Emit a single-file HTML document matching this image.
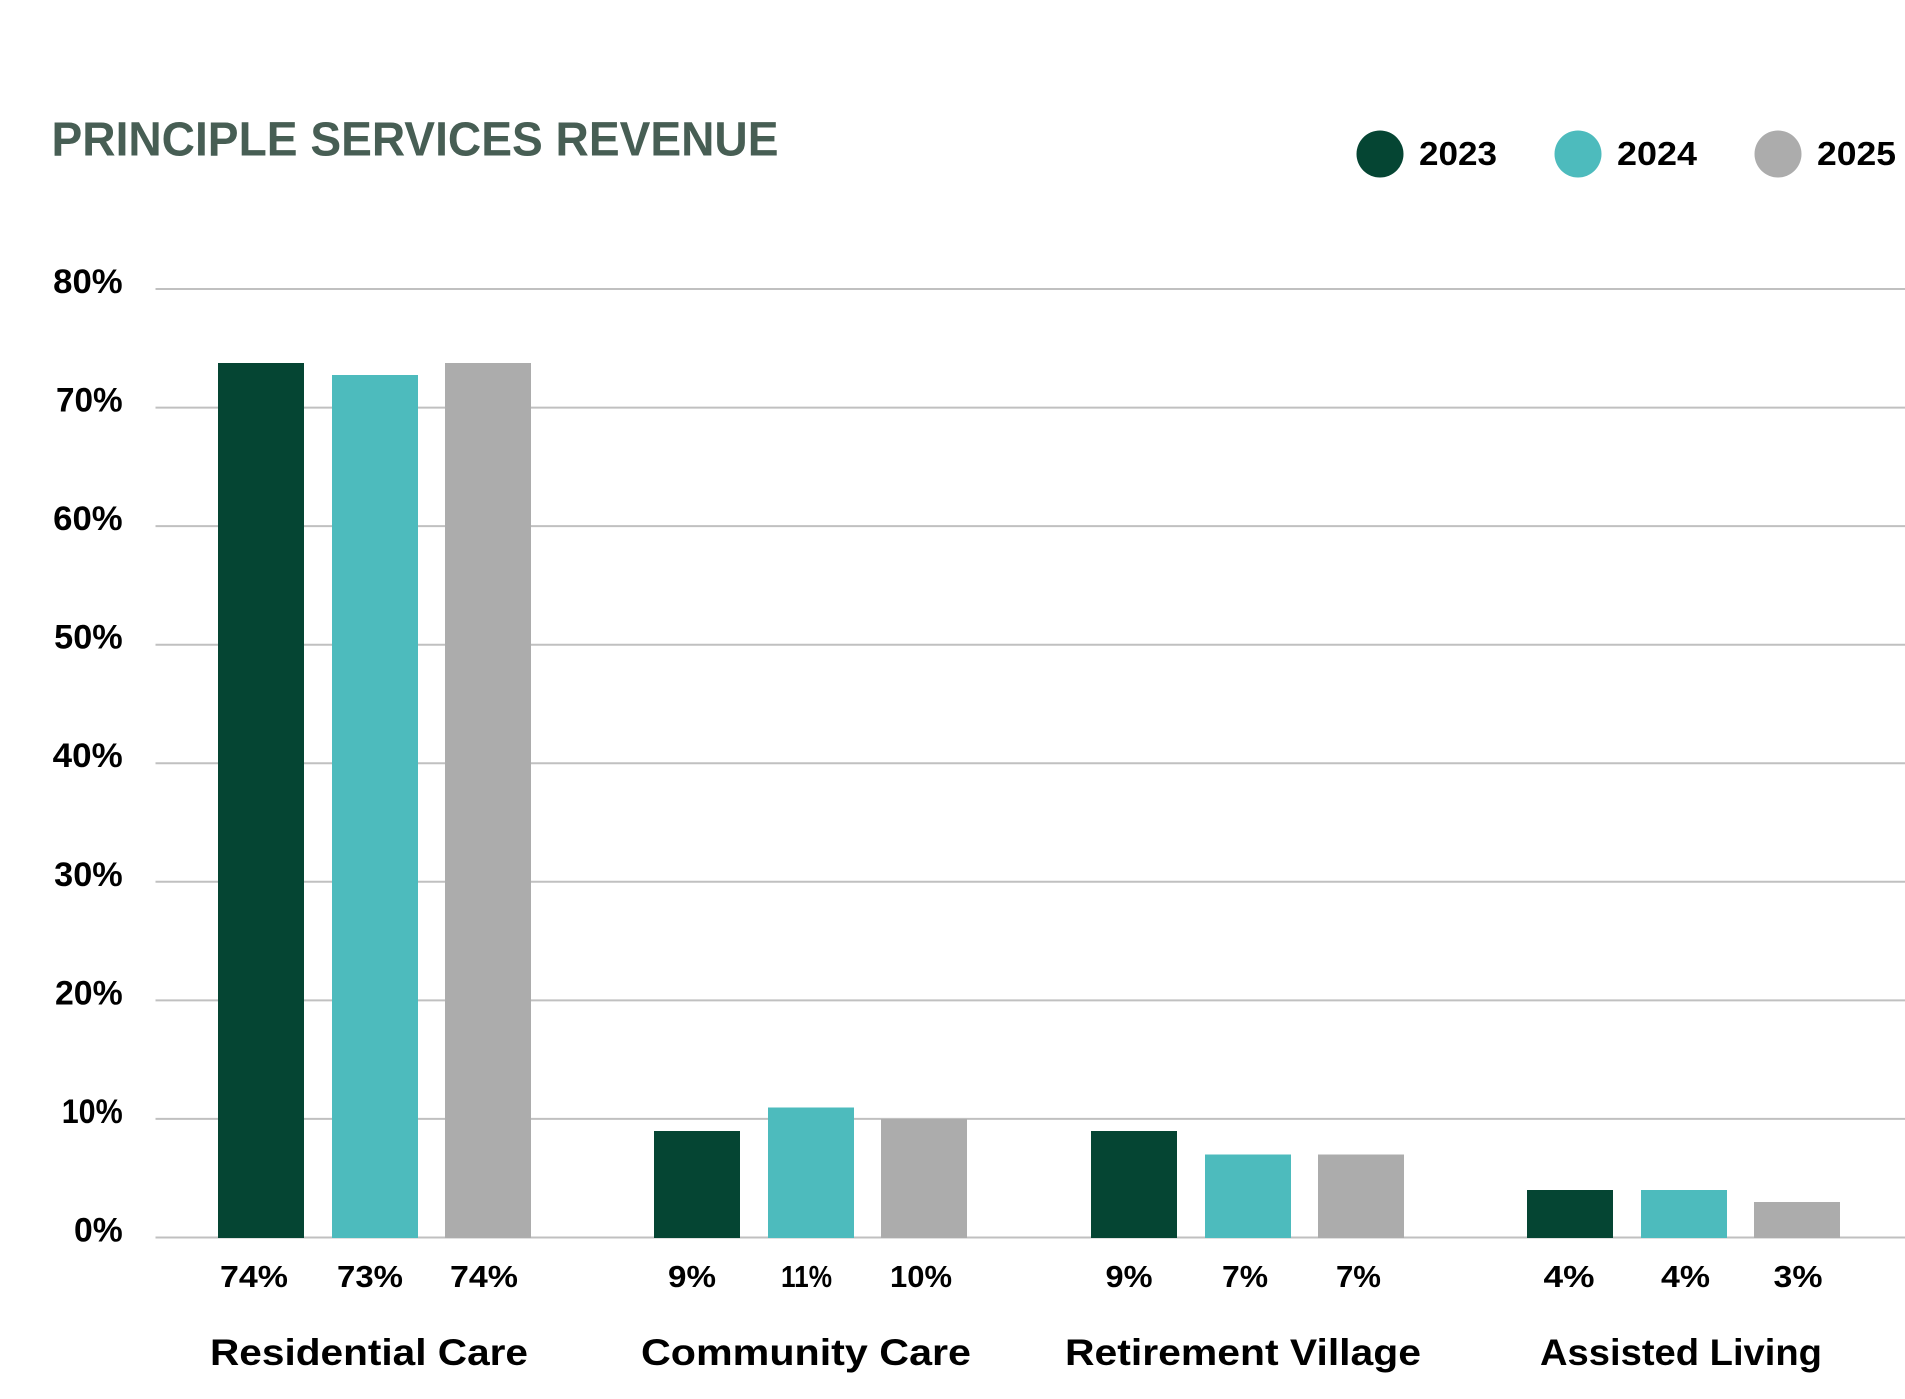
<!DOCTYPE html>
<html>
<head>
<meta charset="utf-8">
<style>
  html, body { margin: 0; padding: 0; background: #ffffff; }
  body { width: 1905px; height: 1399px; overflow: hidden; }
  svg { display: block; }
  text { font-family: "Liberation Sans", "DejaVu Sans", sans-serif; font-weight: bold; }
</style>
</head>
<body>
<svg width="1905" height="1399" viewBox="0 0 1905 1399" xmlns="http://www.w3.org/2000/svg">
  <rect x="0" y="0" width="1905" height="1399" fill="#ffffff"/>

  <!-- Title -->
  <text x="51.5" y="155.7" font-size="48" fill="#475e54" textLength="727" lengthAdjust="spacingAndGlyphs">PRINCIPLE SERVICES REVENUE</text>

  <!-- Legend -->
  <circle cx="1380" cy="154" r="23.5" fill="#054533"/>
  <text x="1419" y="165" font-size="33" fill="#000" textLength="78" lengthAdjust="spacingAndGlyphs">2023</text>
  <circle cx="1578" cy="154" r="23.5" fill="#4dbbbd"/>
  <text x="1617" y="165" font-size="33" fill="#000" textLength="80" lengthAdjust="spacingAndGlyphs">2024</text>
  <circle cx="1778" cy="154" r="23.5" fill="#acacac"/>
  <text x="1817" y="165" font-size="33" fill="#000" textLength="79" lengthAdjust="spacingAndGlyphs">2025</text>

  <!-- Gridlines -->
  <g stroke="#c0c0c0" stroke-width="2">
    <line x1="155.5" y1="289" x2="1905" y2="289"/>
    <line x1="155.5" y1="407.6" x2="1905" y2="407.6"/>
    <line x1="155.5" y1="526.1" x2="1905" y2="526.1"/>
    <line x1="155.5" y1="644.7" x2="1905" y2="644.7"/>
    <line x1="155.5" y1="763.2" x2="1905" y2="763.2"/>
    <line x1="155.5" y1="881.8" x2="1905" y2="881.8"/>
    <line x1="155.5" y1="1000.4" x2="1905" y2="1000.4"/>
    <line x1="155.5" y1="1118.9" x2="1905" y2="1118.9"/>
    <line x1="155.5" y1="1237.5" x2="1905" y2="1237.5"/>
  </g>

  <!-- Y axis labels -->
  <g font-size="34" fill="#000" text-anchor="end">
    <text x="122.7" y="293" textLength="69.5" lengthAdjust="spacingAndGlyphs">80%</text>
    <text x="122.7" y="411.6" textLength="66.7" lengthAdjust="spacingAndGlyphs">70%</text>
    <text x="122.7" y="530.1" textLength="69.5" lengthAdjust="spacingAndGlyphs">60%</text>
    <text x="122.7" y="648.7" textLength="68.5" lengthAdjust="spacingAndGlyphs">50%</text>
    <text x="122.7" y="767.2" textLength="70" lengthAdjust="spacingAndGlyphs">40%</text>
    <text x="122.7" y="885.8" textLength="68.5" lengthAdjust="spacingAndGlyphs">30%</text>
    <text x="122.7" y="1004.4" textLength="67.7" lengthAdjust="spacingAndGlyphs">20%</text>
    <text x="122.7" y="1122.9" textLength="61" lengthAdjust="spacingAndGlyphs">10%</text>
    <text x="122.7" y="1241.5" textLength="48.7" lengthAdjust="spacingAndGlyphs">0%</text>
  </g>

  <!-- Bars -->
  <g>
    <!-- Residential Care -->
    <rect x="218" y="363" width="86" height="875" fill="#054533"/>
    <rect x="332" y="375" width="86" height="863" fill="#4dbbbd"/>
    <rect x="445" y="363" width="86" height="875" fill="#acacac"/>
    <!-- Community Care -->
    <rect x="654" y="1131" width="86" height="107" fill="#054533"/>
    <rect x="768" y="1107.5" width="86" height="130.5" fill="#4dbbbd"/>
    <rect x="881" y="1119" width="86" height="119" fill="#acacac"/>
    <!-- Retirement Village -->
    <rect x="1091" y="1131" width="86" height="107" fill="#054533"/>
    <rect x="1205" y="1154.5" width="86" height="83.5" fill="#4dbbbd"/>
    <rect x="1318" y="1154.5" width="86" height="83.5" fill="#acacac"/>
    <!-- Assisted Living -->
    <rect x="1527" y="1190" width="86" height="48" fill="#054533"/>
    <rect x="1641" y="1190" width="86" height="48" fill="#4dbbbd"/>
    <rect x="1754" y="1202" width="86" height="36" fill="#acacac"/>
  </g>

  <!-- Value labels -->
  <g font-size="30.5" fill="#000" text-anchor="middle">
    <text x="254" y="1287" textLength="68" lengthAdjust="spacingAndGlyphs">74%</text>
    <text x="370" y="1287" textLength="66" lengthAdjust="spacingAndGlyphs">73%</text>
    <text x="484" y="1287" textLength="68" lengthAdjust="spacingAndGlyphs">74%</text>

    <text x="692" y="1287" textLength="48" lengthAdjust="spacingAndGlyphs">9%</text>
    <text x="806.5" y="1287" textLength="51" lengthAdjust="spacingAndGlyphs">11%</text>
    <text x="921" y="1287" textLength="62" lengthAdjust="spacingAndGlyphs">10%</text>

    <text x="1129" y="1287" textLength="47" lengthAdjust="spacingAndGlyphs">9%</text>
    <text x="1245" y="1287" textLength="46" lengthAdjust="spacingAndGlyphs">7%</text>
    <text x="1358.5" y="1287" textLength="45" lengthAdjust="spacingAndGlyphs">7%</text>

    <text x="1569" y="1287" textLength="51" lengthAdjust="spacingAndGlyphs">4%</text>
    <text x="1685.5" y="1287" textLength="49" lengthAdjust="spacingAndGlyphs">4%</text>
    <text x="1798" y="1287" textLength="49" lengthAdjust="spacingAndGlyphs">3%</text>
  </g>

  <!-- Category labels -->
  <g font-size="37.5" fill="#000" text-anchor="middle">
    <text x="369" y="1365" textLength="318" lengthAdjust="spacingAndGlyphs">Residential Care</text>
    <text x="806" y="1365" textLength="330" lengthAdjust="spacingAndGlyphs">Community Care</text>
    <text x="1243" y="1365" textLength="356" lengthAdjust="spacingAndGlyphs">Retirement Village</text>
    <text x="1681" y="1365" textLength="282" lengthAdjust="spacingAndGlyphs">Assisted Living</text>
  </g>
</svg>
</body>
</html>
